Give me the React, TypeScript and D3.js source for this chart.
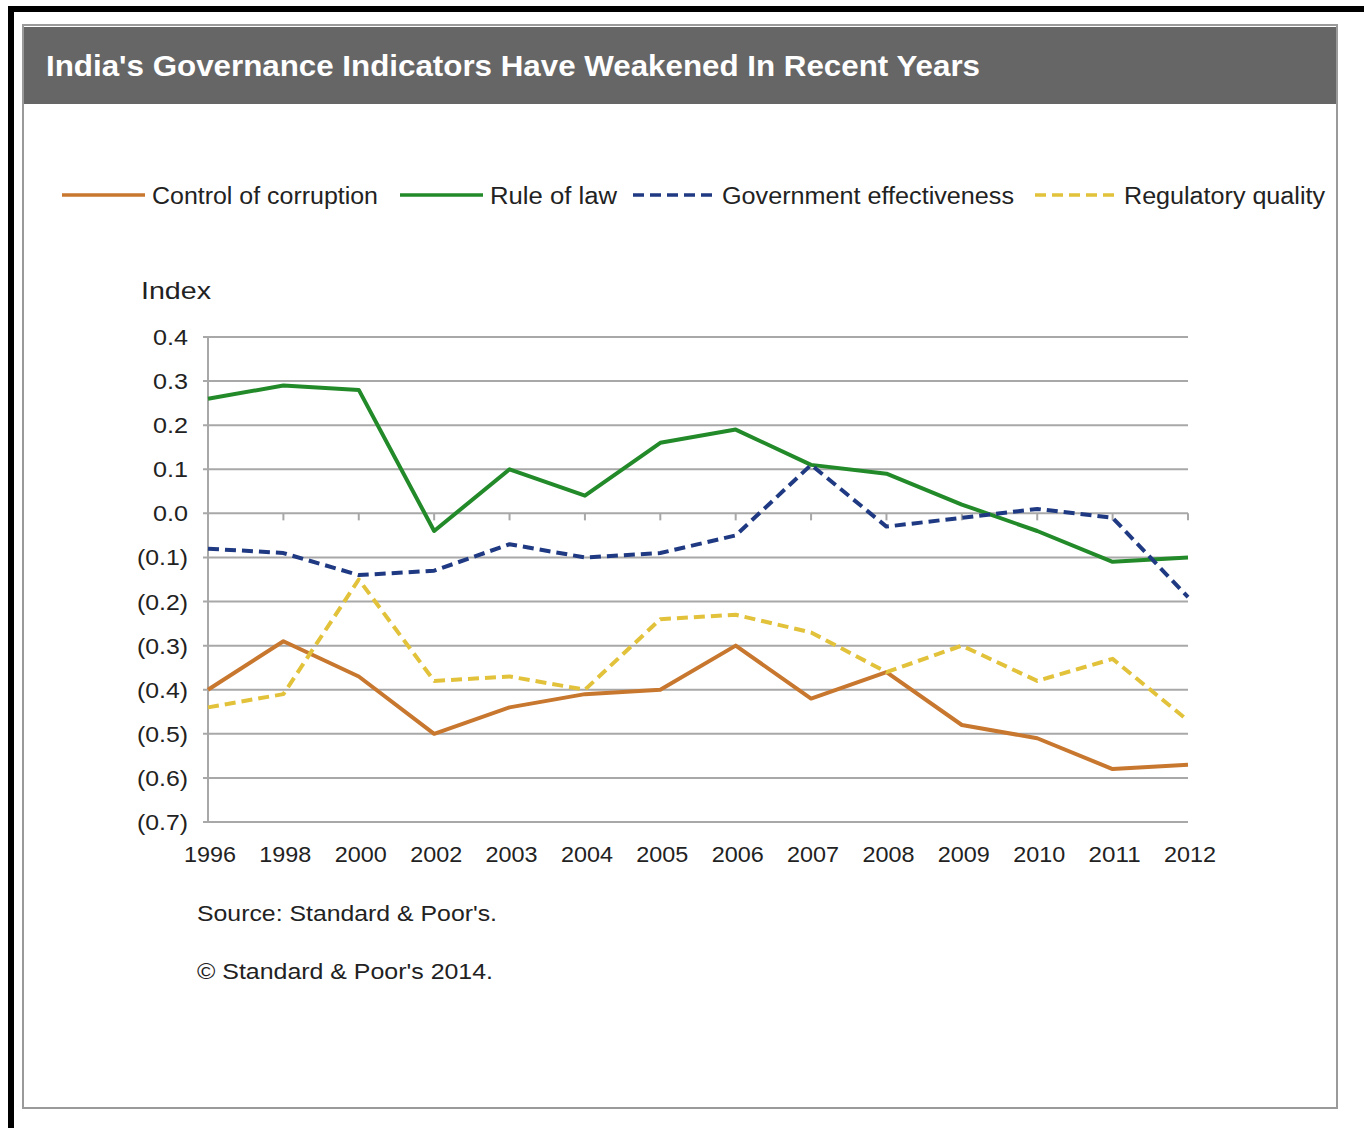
import React from "react";
import * as d3 from "d3";

const years = ["1996","1998","2000","2002","2003","2004","2005","2006","2007","2008","2009","2010","2011","2012"];
const controlOfCorruption = [-0.40,-0.29,-0.37,-0.50,-0.44,-0.41,-0.40,-0.30,-0.42,-0.36,-0.48,-0.51,-0.58,-0.57];
const ruleOfLaw = [0.26,0.29,0.28,-0.04,0.10,0.04,0.16,0.19,0.11,0.09,0.02,-0.04,-0.11,-0.10];
const govEffectiveness = [-0.08,-0.09,-0.14,-0.13,-0.07,-0.10,-0.09,-0.05,0.11,-0.03,-0.01,0.01,-0.01,-0.19];
const regulatoryQuality = [-0.44,-0.41,-0.15,-0.38,-0.37,-0.40,-0.24,-0.23,-0.27,-0.36,-0.30,-0.38,-0.33,-0.47];
const yTicks = [0.4,0.3,0.2,0.1,0.0,-0.1,-0.2,-0.3,-0.4,-0.5,-0.6,-0.7];

const seriesList = [
  { name: "Control of corruption", values: controlOfCorruption, color: "#c8772f", dash: "", lx: 62, tx: 152, tw: 226 },
  { name: "Rule of law", values: ruleOfLaw, color: "#238a2a", dash: "", lx: 400, tx: 490, tw: 127 },
  { name: "Government effectiveness", values: govEffectiveness, color: "#1f3a82", dash: "11,6", lx: 633, tx: 722, tw: 292 },
  { name: "Regulatory quality", values: regulatoryQuality, color: "#e2c23a", dash: "11,6", lx: 1035, tx: 1124, tw: 201 },
];

const FONT = "'Liberation Sans', Arial, sans-serif";

function fmt(v: number) {
  const s = Math.abs(v).toFixed(1);
  return v < -1e-9 ? `(${s})` : s;
}

export default function App() {
  const x = d3.scalePoint<string>().domain(years).range([208, 1188]);
  const y = d3.scaleLinear().domain([-0.7, 0.4]).range([822, 337]);
  const line = d3
    .line<number>()
    .x((_, i) => x(years[i]) as number)
    .y((d) => y(d));

  const drawOrder = [seriesList[0], seriesList[3], seriesList[1], seriesList[2]];

  return (
    <svg
      width={1364}
      height={1128}
      style={{ position: "absolute", left: 0, top: 0, background: "#fff" }}
    >
      <rect x={0} y={0} width={1364} height={1128} fill="#fff" />
      {/* black frame */}
      <rect x={8} y={6} width={1356} height={6} fill="#000" />
      <rect x={8} y={6} width={6} height={1122} fill="#000" />
      {/* chart box */}
      <rect x={23} y={25} width={1314} height={1083} fill="#fff" stroke="#9a9a9a" strokeWidth={2} />
      <rect x={24} y={27} width={1312} height={77} fill="#666666" />
      <text x={46} y={76} fill="#fff" fontFamily={FONT} fontWeight="bold" fontSize={29} textLength={934} lengthAdjust="spacingAndGlyphs">
        India's Governance Indicators Have Weakened In Recent Years
      </text>

      {/* legend */}
      {seriesList.map((s) => (
        <g key={s.name}>
          <line x1={s.lx} x2={s.lx + 83} y1={195} y2={195} stroke={s.color} strokeWidth={3.5} strokeDasharray={s.dash} />
          <text x={s.tx} y={204} fontFamily={FONT} fontSize={23} fill="#222" textLength={s.tw} lengthAdjust="spacingAndGlyphs">
            {s.name}
          </text>
        </g>
      ))}

      <text x={141} y={299} fontFamily={FONT} fontSize={24} fill="#222" textLength={70} lengthAdjust="spacingAndGlyphs">Index</text>

      {/* gridlines */}
      {yTicks.map((t) => (
        <g key={t}>
          <line x1={203} x2={1188} y1={y(t)} y2={y(t)} stroke="#a8a8a8" strokeWidth={2} />
          <text x={188} y={y(t) + 8} textAnchor="end" fontFamily={FONT} fontSize={22} fill="#222"
            textLength={t < -1e-9 ? 51 : 35} lengthAdjust="spacingAndGlyphs">
            {fmt(t)}
          </text>
        </g>
      ))}
      {/* y axis */}
      <line x1={208} x2={208} y1={337} y2={822} stroke="#a8a8a8" strokeWidth={2} />
      {/* category ticks at zero line */}
      {years.map((yr) => (
        <line key={"t" + yr} x1={x(yr) as number} x2={x(yr) as number} y1={y(0)} y2={y(0) + 7} stroke="#a8a8a8" strokeWidth={2} />
      ))}
      {years.map((yr) => (
        <text key={yr} x={(x(yr) as number) + 2} y={862} textAnchor="middle" fontFamily={FONT} fontSize={22} fill="#222"
          textLength={52} lengthAdjust="spacingAndGlyphs">
          {yr}
        </text>
      ))}

      {/* series */}
      {drawOrder.map((s) => (
        <path
          key={"p" + s.name}
          d={line(s.values) || ""}
          fill="none"
          stroke={s.color}
          strokeWidth={4}
          strokeDasharray={s.dash}
          strokeLinejoin="round"
        />
      ))}

      <text x={197} y={921} fontFamily={FONT} fontSize={22} fill="#222" textLength={300} lengthAdjust="spacingAndGlyphs">Source: Standard &amp; Poor's.</text>
      <text x={197} y={979} fontFamily={FONT} fontSize={22} fill="#222" textLength={296} lengthAdjust="spacingAndGlyphs">© Standard &amp; Poor's 2014.</text>
    </svg>
  );
}
